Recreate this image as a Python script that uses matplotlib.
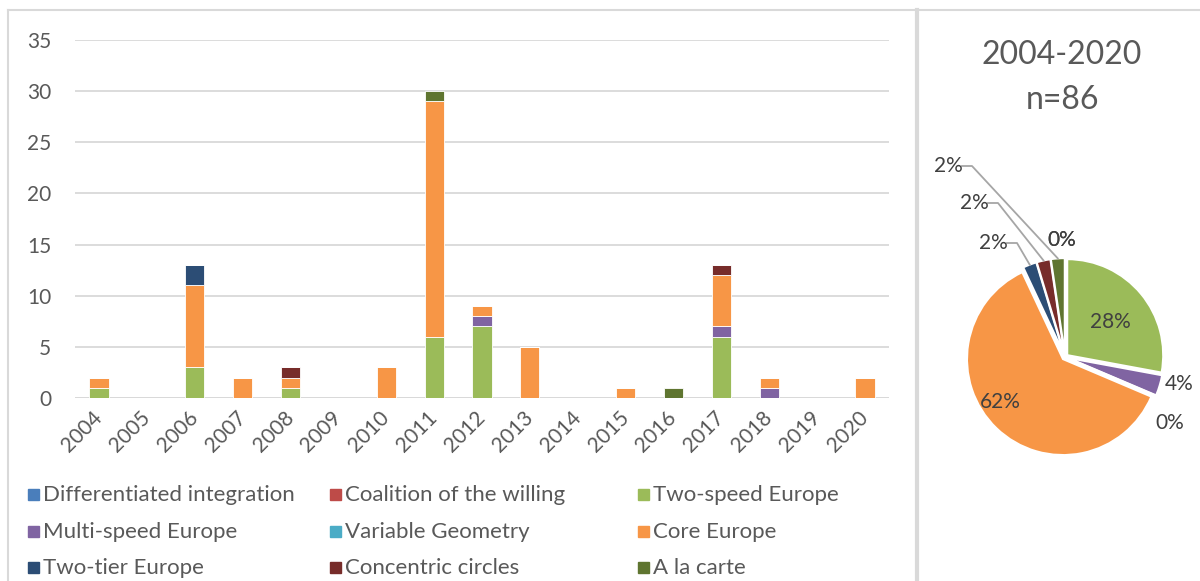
import numpy as np
import matplotlib.pyplot as plt
from matplotlib.patches import Rectangle
from matplotlib.lines import Line2D

plt.rcParams['font.family'] = ['Lato', 'DejaVu Sans']

years = [str(y) for y in range(2004, 2021)]
categories = ["Differentiated integration", "Coalition of the willing", "Two-speed Europe",
              "Multi-speed Europe", "Variable Geometry", "Core Europe",
              "Two-tier Europe", "Concentric circles", "A la carte"]
colors = ["#4a7ebb", "#be4b48", "#9bbb59", "#8064a2", "#4bacc6", "#f79646",
          "#2c4d75", "#772c2a", "#5f7530"]

#                    04 05 06 07 08 09 10  11 12 13 14 15 16 17 18 19 20
differentiated =    [0, 0, 0, 0, 0, 0, 0,  0, 0, 0, 0, 0, 0, 0, 0, 0, 0]
coalition =         [0, 0, 0, 0, 0, 0, 0,  0, 0, 0, 0, 0, 0, 0, 0, 0, 0]
two_speed =         [1, 0, 3, 0, 1, 0, 0,  6, 7, 0, 0, 0, 0, 6, 0, 0, 0]
multi_speed =       [0, 0, 0, 0, 0, 0, 0,  0, 1, 0, 0, 0, 0, 1, 1, 0, 0]
variable_geometry = [0, 0, 0, 0, 0, 0, 0,  0, 0, 0, 0, 0, 0, 0, 0, 0, 0]
core_europe =       [1, 0, 8, 2, 1, 0, 3, 23, 1, 5, 0, 1, 0, 5, 1, 0, 2]
two_tier =          [0, 0, 2, 0, 0, 0, 0,  0, 0, 0, 0, 0, 0, 0, 0, 0, 0]
concentric =        [0, 0, 0, 0, 1, 0, 0,  0, 0, 0, 0, 0, 0, 1, 0, 0, 0]
a_la_carte =        [0, 0, 0, 0, 0, 0, 0,  1, 0, 0, 0, 0, 1, 0, 0, 0, 0]

series = [differentiated, coalition, two_speed, multi_speed, variable_geometry,
          core_europe, two_tier, concentric, a_la_carte]

W, H = 1200, 581
fig = plt.figure(figsize=(W / 100, H / 100), dpi=100)
grey_txt = "#595959"
grid_c = "#d9d9d9"

# panel frames
fig.add_artist(Line2D([8 / W, 1], [1 - 10 / H, 1 - 10 / H], color=grid_c, lw=1.5))
fig.add_artist(Line2D([8 / W, 8 / W], [0, 1 - 10 / H], color=grid_c, lw=1.5))
fig.add_artist(Line2D([917 / W, 917 / W], [0, 1 - 10 / H], color=grid_c, lw=3))

# stacked bars
ax = fig.add_axes([75 / W, 1 - 398 / H, 814 / W, 358 / H])
x = np.arange(len(years))
bottom = np.zeros(len(years))
for vals, c in zip(series, colors):
    vals = np.array(vals, dtype=float)
    ax.bar(x, vals, 0.4, bottom=bottom, color=c, edgecolor="white", linewidth=0.6, zorder=3)
    bottom += vals

ax.set_xlim(-0.5, len(years) - 0.5)
ax.set_ylim(0, 35)
ax.set_yticks(range(0, 36, 5))
ax.yaxis.grid(True, color=grid_c, lw=1.3, zorder=0)
for s in ax.spines.values():
    s.set_visible(False)
ax.axhline(0, color=grid_c, lw=1.3, zorder=1)
ax.tick_params(length=0, colors=grey_txt, labelsize=15)
ax.tick_params(axis='y', pad=17)
ax.set_xticks(x)
ax.set_xticklabels(years, rotation=45, ha='right', va='center', rotation_mode='anchor')
ax.tick_params(axis='x', pad=12)

# legend, row by row in three columns
col_x = [28, 330, 638]
row_y = [495, 532, 568]
for i, (name, c) in enumerate(zip(categories, colors)):
    cx, cy = col_x[i % 3], row_y[i // 3]
    fig.add_artist(Rectangle((cx / W, (H - cy - 5) / H), 11 / W, 11 / H, color=c,
                             transform=fig.transFigure))
    fig.text((cx + 15) / W, 1 - cy / H, name, fontsize=16, color=grey_txt, va='center')

# pie of totals
totals = [sum(v) for v in series]
n = sum(totals)
cx0, cy0, r = 1065, 357, 96
bx0, bx1, by0, by1 = 920, 1200, 120, 480
pax = fig.add_axes([bx0 / W, 1 - by1 / H, (bx1 - bx0) / W, (by1 - by0) / H])
ex = 0.03
wedges, _ = pax.pie(totals, colors=colors, startangle=90, counterclock=False,
                    explode=[ex] * len(totals), radius=1,
                    wedgeprops=dict(edgecolor="white", linewidth=1.5))
pax.set_aspect('auto')
pax.set_xlim((bx0 - cx0) / r, (bx1 - cx0) / r)
pax.set_ylim((cy0 - by1) / r, (cy0 - by0) / r)
pax.axis('off')


def to_data(px, py):
    return (px - cx0) / r, (cy0 - py) / r


# whole percents that add up to 100 (largest remainder)
raw = np.array(totals) * 100.0 / n
pct = np.floor(raw).astype(int)
for k in np.argsort(-(raw - pct))[:100 - pct.sum()]:
    pct[k] += 1
pcts = ["%d%%" % p for p in pct]

label_pos = {0: (1062, 240), 1: (1062, 240), 2: (1110, 322), 3: (1179, 384),
             4: (1170, 423), 5: (1000, 402), 6: (993, 243), 7: (974, 203),
             8: (948, 166)}
for i, p in enumerate(pcts):
    tx, ty = to_data(*label_pos[i])
    pax.text(tx, ty, p, fontsize=15, color="#404040", ha='center', va='center')

# leader lines for the small slices
knees = {6: (1017, 243), 7: (998, 203), 8: (972, 166)}
for i, (kx, ky) in knees.items():
    w = wedges[i]
    th = np.deg2rad((w.theta1 + w.theta2) / 2)
    wx, wy = (1 + ex) * np.cos(th), (1 + ex) * np.sin(th)
    x1, y1 = to_data(label_pos[i][0] + 14, ky)
    x2, y2 = to_data(kx, ky)
    pax.plot([x1, x2, wx], [y1, y2, wy], color="#a6a6a6", lw=1.3)

fig.text(1062 / W, 1 - 55 / H, "2004-2020", fontsize=23, color=grey_txt, ha='center', va='center')
fig.text(1062 / W, 1 - 100 / H, "n=%d" % n, fontsize=23, color=grey_txt, ha='center', va='center')

fig.savefig("out.png", dpi=100)
